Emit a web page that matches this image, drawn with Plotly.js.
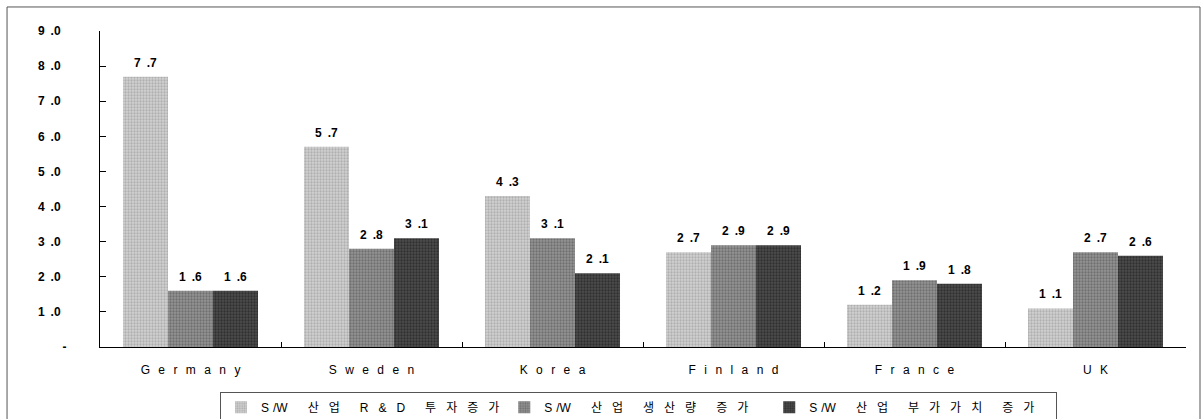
<!DOCTYPE html>
<html>
<head>
<meta charset="utf-8">
<script src="https://cdn.plot.ly/plotly-3.0.1.min.js"></script>
<style>
  html, body { margin: 0; padding: 0; background: #fff; }
  #chart { width: 1202px; height: 419px; }
</style>
</head>
<body>
<div id="chart"></div>
<script>
// Growth multiples by country for three software-industry indicators
const countries = ['Germany', 'Sweden', 'Korea', 'Finland', 'France', 'UK'];
const seriesNames = ['S/W 산업 R&D 투자증가', 'S/W 산업 생산량 증가', 'S/W 산업 부가가치 증가'];
const rdInvestment = [7.7, 5.7, 4.3, 2.7, 1.2, 1.1];
const production   = [1.6, 2.8, 3.1, 2.9, 1.9, 2.7];
const valueAdded   = [1.6, 3.1, 2.1, 2.9, 1.8, 2.6];
const yTickValues  = [0, 1, 2, 3, 4, 5, 6, 7, 8, 9];

const FONT = 'Liberation Sans, Arial, Noto Sans CJK KR, sans-serif';

// Letter-spaced text: a gap between characters, a double gap between words
function spread(s, gap) {
  return s.split(' ').map(w => Array.from(w).reduce((acc, c, i, arr) => {
    if (i === 0) return c;
    if (c === '/') return acc + '\u2004' + c;
    if (arr[i - 1] === '/') return acc + c;
    return acc + gap + c;
  }, '')).join(gap + gap);
}
// "7.7" -> "7 .7"
function fmt(v) { return v.toFixed(1).replace('.', '\u2002.'); }

const series = [rdInvestment, production, valueAdded];
const styles = [
  { bg: '#d2d2d2', fg: '#8c8c8c' },
  { bg: '#949494', fg: '#4a4a4a' },
  { bg: '#4c4c4c', fg: '#141414' }
];

const traces = series.map((vals, k) => ({
  type: 'bar',
  // extra trailing space widens the later legend entries
  name: spread(seriesNames[k], '\u2002\u2004') + (k > 0 ? '\u2003\u2004' : ''),
  x: countries,
  y: vals,
  marker: {
    color: styles[k].bg,
    line: { width: 0 },
    pattern: { shape: '.', bgcolor: styles[k].bg, fgcolor: styles[k].fg, size: 3, solidity: 0.45, fillmode: 'overlay' }
  },
  hoverinfo: 'skip'
}));

const BARGAP = 0.254;
const barW = (1 - BARGAP) / 3;
const annotations = [];
series.forEach((vals, k) => {
  vals.forEach((v, i) => {
    annotations.push({
      x: i + (k - 1) * barW,
      y: v,
      xref: 'x', yref: 'y',
      text: fmt(v),
      showarrow: false,
      yanchor: 'bottom',
      yshift: 5,
      font: { family: FONT, size: 12, color: '#000', weight: 'bold' }
    });
  });
});

const layout = {
  width: 1202,
  height: 419,
  margin: { l: 100, r: 16, t: 31, b: 72, autoexpand: false },
  paper_bgcolor: '#fff',
  plot_bgcolor: '#fff',
  barmode: 'group',
  bargap: BARGAP,
  bargroupgap: 0,
  showlegend: true,
  font: { family: FONT, color: '#000' },
  xaxis: {
    type: 'category',
    tickvals: countries,
    ticktext: countries.map(c => spread(c, '\u2002\u2009')),
    tickson: 'boundaries',
    ticks: 'inside',
    ticklen: 5,
    tickcolor: '#000',
    showline: true,
    linecolor: '#000',
    linewidth: 1,
    showgrid: false,
    zeroline: false,
    ticklabelstandoff: 12,
    tickfont: { family: FONT, size: 12, color: '#000' }
  },
  yaxis: {
    range: [0, 9],
    tickvals: yTickValues,
    ticktext: yTickValues.map(v => v === 0 ? '-\u2002' : fmt(v) + '\u2003'),
    ticks: 'inside',
    ticklen: 6,
    tickcolor: '#000',
    showline: true,
    linecolor: '#000',
    linewidth: 1,
    showgrid: false,
    zeroline: false,
    ticklabelstandoff: 24,
    tickfont: { family: FONT, size: 12, color: '#000', weight: 'bold' }
  },
  legend: {
    orientation: 'h',
    x: 0.1105,
    xanchor: 'left',
    y: -0.142,
    yanchor: 'top',
    bordercolor: '#555',
    borderwidth: 1,
    bgcolor: '#fff',
    font: { family: FONT, size: 12, color: '#000' },
    traceorder: 'normal'
  },
  annotations: annotations,
  shapes: [{
    type: 'rect', xref: 'paper', yref: 'paper',
    x0: -0.0856, x1: 1.0129, y0: -0.4, y1: 1.076,
    line: { color: '#555', width: 1 },
    fillcolor: 'rgba(0,0,0,0)',
    layer: 'below'
  }]
};

Plotly.newPlot('chart', traces, layout, { displayModeBar: false, staticPlot: true });
</script>
</body>
</html>
